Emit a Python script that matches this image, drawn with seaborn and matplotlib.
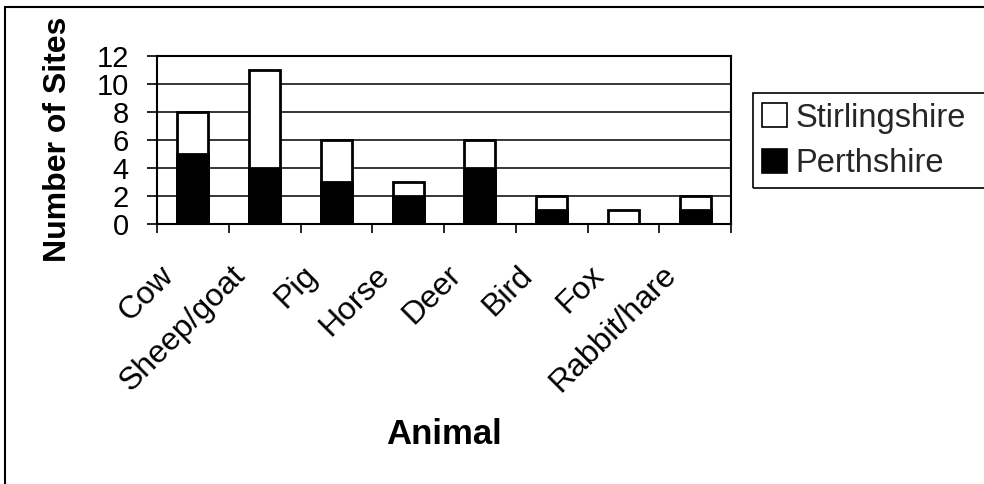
import numpy as np
import pandas as pd
import matplotlib
matplotlib.use("Agg")
import matplotlib.pyplot as plt
import matplotlib.transforms as mtransforms
from matplotlib.patches import Rectangle, Patch
import seaborn as sns

# Site counts per animal, by county
animals = ["Cow", "Sheep/goat", "Pig", "Horse", "Deer", "Bird", "Fox", "Rabbit/hare"]
perthshire = [5, 4, 3, 2, 4, 1, 0, 1]
stirlingshire = [3, 7, 3, 1, 2, 1, 1, 1]
y_ticks = [0, 2, 4, 6, 8, 10, 12]

df = pd.DataFrame({"Animal": animals,
                   "Perthshire": perthshire,
                   "Stirlingshire": stirlingshire})
df["Total"] = df["Perthshire"] + df["Stirlingshire"]

sns.set_theme(style="white")
plt.rcParams["font.family"] = ["Liberation Sans", "DejaVu Sans"]

fig = plt.figure(figsize=(9.84, 4.84), dpi=100)
ax = fig.add_axes([157 / 984, 1 - 224 / 484, 574 / 984, 168 / 484])

bar_w = 0.43
# stacked bars: full height (white top segment), then the Perthshire base in black
sns.barplot(data=df, x="Animal", y="Total", color="white", edgecolor="black",
            linewidth=2.0, width=bar_w, saturation=1, ax=ax, zorder=3)
sns.barplot(data=df, x="Animal", y="Perthshire", color="black", edgecolor="black",
            linewidth=2.0, width=bar_w, saturation=1, ax=ax, zorder=4)

ax.set_xlim(-0.5, len(animals) - 0.5)
ax.set_ylim(0, 12)
ax.set_yticks(y_ticks)
ax.set_yticklabels([str(v) for v in y_ticks], fontsize=21)
ax.yaxis.grid(True, color="black", linewidth=1.1)
ax.set_axisbelow(True)

for s in ax.spines.values():
    s.set_visible(True)
    s.set_color("black")
    s.set_linewidth(1.5)

# category boundary ticks below the axis, labels centred on the categories
ax.set_xticks(np.arange(-0.5, len(animals), 1.0), minor=True)
ax.set_xticks(np.arange(len(animals)))
ax.set_xticklabels(animals, rotation=45, ha="right", fontsize=23)
ax.tick_params(axis="x", which="major", length=0, pad=26)
ax.tick_params(axis="x", which="minor", direction="out", length=6.5, width=1.2,
               color="black", bottom=True)
ax.tick_params(axis="y", which="major", direction="out", length=7.2, width=1.2,
               color="black", left=True, pad=13, labelcolor="black")
ax.tick_params(axis="x", labelcolor="black")

shift = mtransforms.ScaledTranslation(-13 / 100, 0, fig.dpi_scale_trans)
for lab in ax.get_xticklabels():
    lab.set_transform(lab.get_transform() + shift)

ax.set_ylabel("Number of Sites", fontsize=23, fontweight="bold", color="black",
              va="center")
ax.yaxis.set_label_coords((58 - 157) / 574, (224 - 139) / 168)
ax.set_xlabel("Animal", fontsize=25, fontweight="bold", color="black", va="center")
ax.xaxis.set_label_coords(0.5, (224 - 434) / 168)

# legend
handles = [Patch(facecolor="white", edgecolor="black", linewidth=1.2, label="Stirlingshire"),
           Patch(facecolor="black", edgecolor="black", linewidth=1.2, label="Perthshire")]
fig.legend(handles=handles, loc="center left", bbox_to_anchor=(762 / 984, 1 - 141 / 484),
           frameon=False, fontsize=23.5, handlelength=0.77, handleheight=0.77,
           handletextpad=0.25, labelspacing=0.45, borderpad=0.0, borderaxespad=0.0)
fig.add_artist(Rectangle((753 / 984, 1 - 188 / 484), 0.3, 95 / 484,
                         transform=fig.transFigure, fill=False, edgecolor="black",
                         linewidth=1.2, clip_on=False))

# outer chart border
fig.add_artist(Rectangle((5 / 984, -0.1), 1.0, 1.1 - 7.5 / 484,
                         transform=fig.transFigure, fill=False, edgecolor="black",
                         linewidth=1.5, clip_on=False))

fig.savefig("out.png", dpi=100, facecolor="white")
